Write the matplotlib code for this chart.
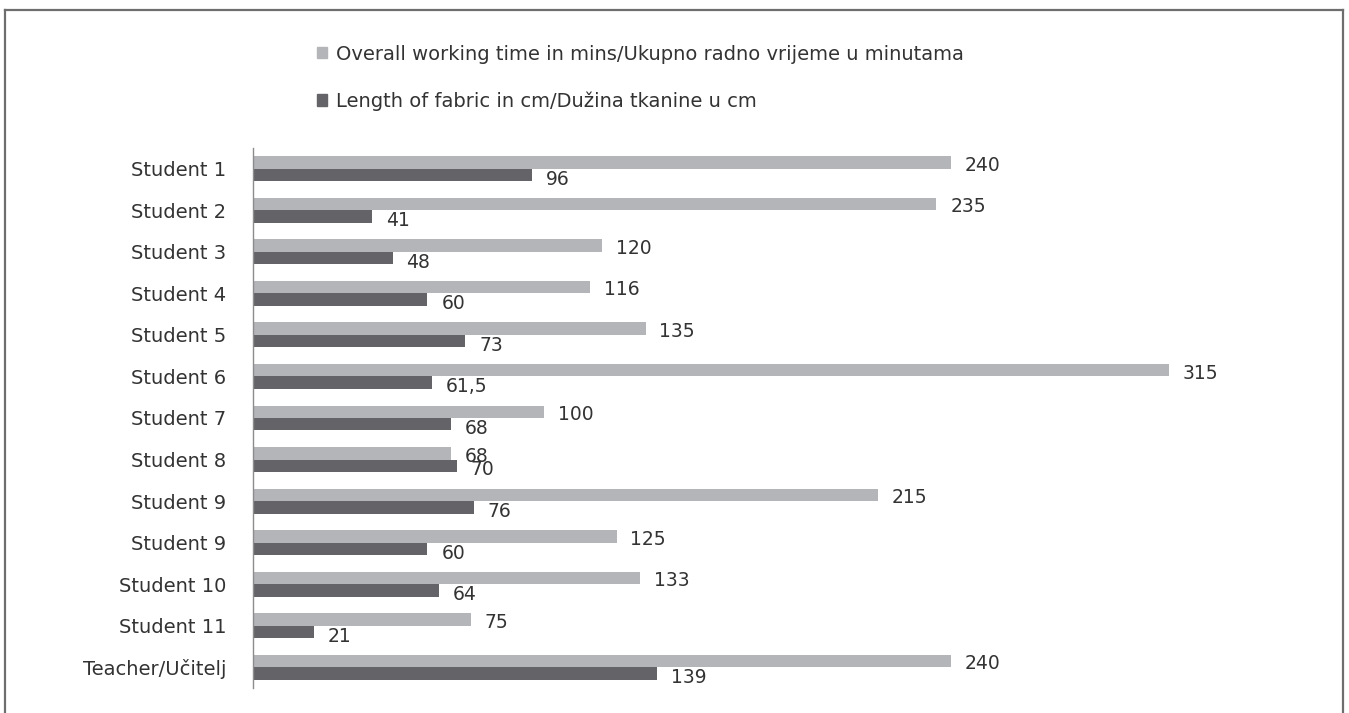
import matplotlib
matplotlib.use("Agg")
import matplotlib.pyplot as plt
import numpy as np
from matplotlib.lines import Line2D
from matplotlib.patches import Patch

plt.rcParams["font.family"] = ["DejaVu Sans"]

categories = ["Student 1", "Student 2", "Student 3", "Student 4", "Student 5", "Student 6",
              "Student 7", "Student 8", "Student 9", "Student 9", "Student 10", "Student 11",
              "Teacher/Učitelj"]
working_time = [240, 235, 120, 116, 135, 315, 100, 68, 215, 125, 133, 75, 240]
fabric_length = [96, 41, 48, 60, 73, 61.5, 68, 70, 76, 60, 64, 21, 139]
series_names = ["Overall working time in mins/Ukupno radno vrijeme u minutama",
                "Length of fabric in cm/Dužina tkanine u cm"]

LIGHT = "#b4b5b9"
DARK = "#646367"
TEXT = "#333333"


def fmt(v):
    s = f"{v:g}"
    return s.replace(".", ",")


fig = plt.figure(figsize=(13.49, 7.13), dpi=100)
ax = fig.add_axes([253 / 1349, 1 - 688 / 713, (1343 - 253) / 1349, 540 / 713])

y = np.arange(len(categories))
h = 0.3
ax.barh(y - h / 2, working_time, height=h, color=LIGHT)
ax.barh(y + h / 2, fabric_length, height=h, color=DARK)

for yi, v in zip(y, working_time):
    ax.annotate(fmt(v), (v, yi - h / 2), xytext=(10, -2), textcoords="offset points",
                va="center", ha="left", fontsize=13.5, color=TEXT)
for yi, v in zip(y, fabric_length):
    ax.annotate(fmt(v), (v, yi + h / 2), xytext=(10, -3), textcoords="offset points",
                va="center", ha="left", fontsize=13.5, color=TEXT)

ax.set_xlim(0, (1343 - 253) / 2.908)
ax.set_ylim(len(categories) - 0.5, -0.5)
ax.set_yticks(y)
ax.set_yticklabels(categories, fontsize=14, color=TEXT)
ax.tick_params(axis="y", length=0, pad=19)
ax.set_xticks([])
for side in ["top", "right", "bottom"]:
    ax.spines[side].set_visible(False)
ax.spines["left"].set_color("#8c8c8c")
ax.spines["left"].set_linewidth(1.0)

handles = [Patch(color=LIGHT), Patch(color=DARK)]
fig.legend(handles, series_names, loc="upper left", bbox_to_anchor=(299 / 1349, 1 - 27 / 713),
           frameon=False, handlelength=0.55, handleheight=0.55, handletextpad=0.45,
           labelspacing=1.45, fontsize=14, labelcolor=TEXT)

# outer frame (left, top, right)
frame_kw = dict(color="#6e6e6e", linewidth=1.6, transform=fig.transFigure)
fig.add_artist(Line2D([5 / 1349, 5 / 1349], [0, 1 - 10 / 713], **frame_kw))
fig.add_artist(Line2D([5 / 1349, 1343 / 1349], [1 - 10 / 713, 1 - 10 / 713], **frame_kw))
fig.add_artist(Line2D([1343 / 1349, 1343 / 1349], [0, 1 - 10 / 713], **frame_kw))

fig.savefig("out.png", dpi=100, facecolor="white")
